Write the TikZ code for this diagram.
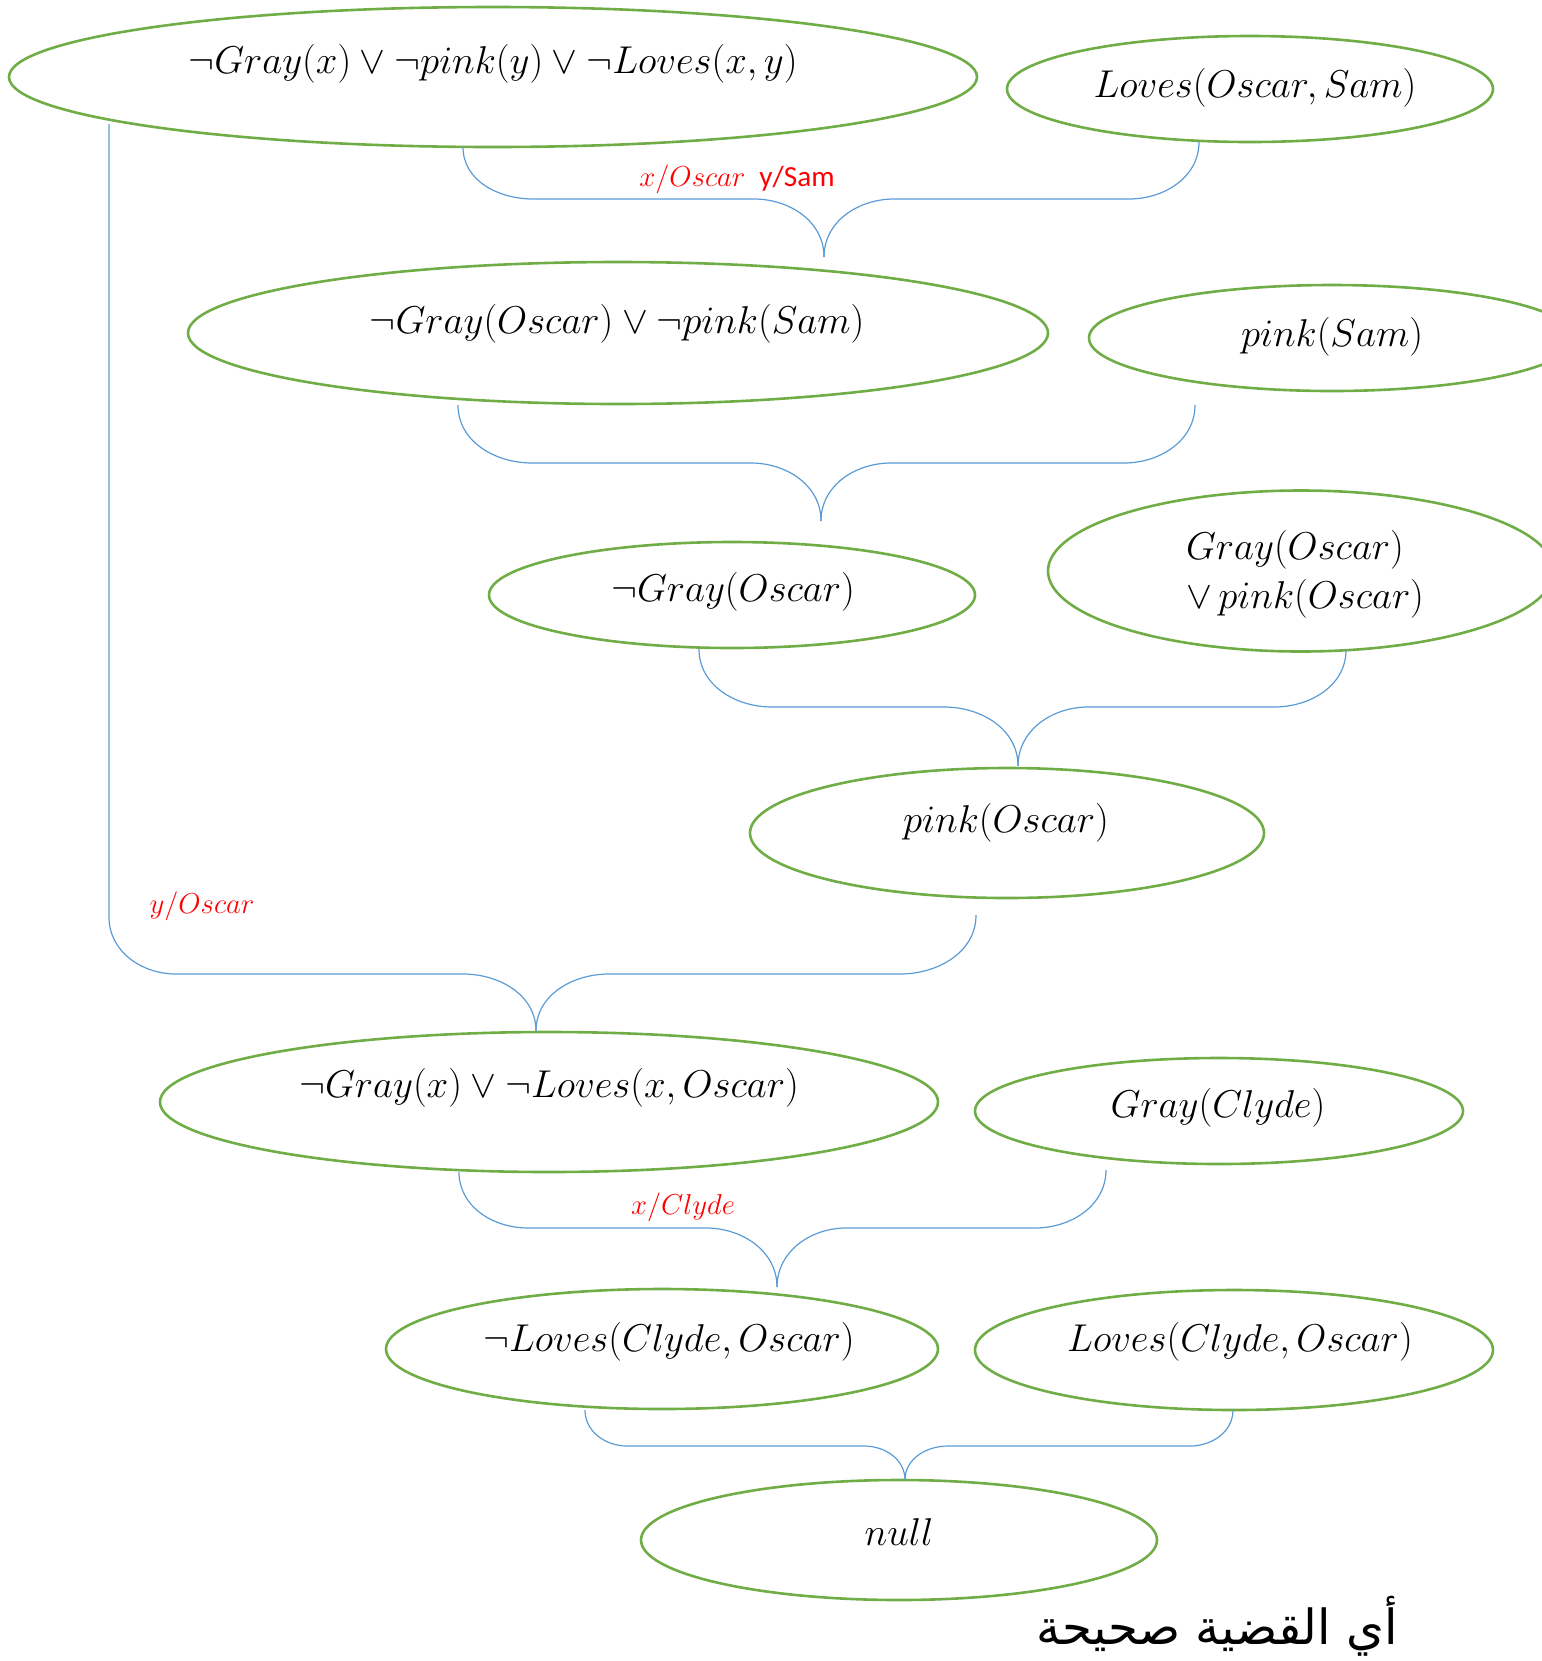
\documentclass[tikz,border=0pt]{standalone}
\usepackage{graphicx}
\usepackage{fontspec}
\newfontfamily\arabicfont[Script=Arabic]{DejaVu Sans}
\newfontfamily\calibrifont{Carlito}
\TeXXeTstate=1
\usetikzlibrary{shapes.geometric}
\definecolor{ellgreen}{RGB}{112,173,71}
\definecolor{connblue}{RGB}{91,155,213}
\newcommand{\ellnode}[5]{\node[ell, minimum width=#4pt, minimum height=#5pt] (#1) at (#2,-#3) {};}
\newcommand{\fm}[1]{\scalebox{0.935}{$#1$}}
\begin{document}
\begin{tikzpicture}[x=0.5pt,y=0.5pt,
  ell/.style={draw=ellgreen, line width=1.3pt, ellipse, inner sep=0pt},
  conn/.style={draw=connblue, line width=0.6pt},
  txt/.style={inner sep=0pt, font=\fontsize{20.74}{26.2}\selectfont},
  sublabel/.style={inner sep=0pt, text=red, font=\fontsize{15}{18}\selectfont}]
\useasboundingbox (0,0) rectangle (1542,-1661);
\clip (0,0) rectangle (1542,-1661);

% ellipses
\ellnode{e1}{493}{77}{484}{70}
\ellnode{e2}{1250}{89}{243}{53}
\ellnode{e3}{618}{333}{430}{71}
\ellnode{e4}{1332}{338}{243}{53}
\ellnode{e5}{732}{595}{243}{53}
\ellnode{e6}{1301}{571}{253}{80.5}
\ellnode{e7}{1007}{833}{257}{65}
\ellnode{e8}{549}{1102}{389}{70}
\ellnode{e9}{1219}{1111}{244}{53}
\ellnode{e10}{662}{1349}{276}{60}
\ellnode{e11}{1234}{1350}{259}{60}
\ellnode{e12}{899}{1540}{258}{60}

% texts
\node[txt] (t1) at (493,-64) {\fm{\neg Gray(x) \vee \neg pink(y) \vee \neg Loves(x,y)}};
\node[txt] (t2) at (1255,-88) {\fm{Loves(Oscar,Sam)}};
\node[txt] (t3) at (617,-324) {\fm{\neg Gray(Oscar) \vee \neg pink(Sam)}};
\node[txt] (t4) at (1332,-337) {\fm{pink(Sam)}};
\node[txt] (t5) at (733,-592) {\fm{\neg Gray(Oscar)}};
\node[txt] (t6) at (1305,-574) {\scalebox{0.935}{\begin{tabular}{@{}l@{}}$Gray(Oscar)$\\$\vee\, pink(Oscar)$\end{tabular}}};
\node[txt] (t7) at (1006,-823) {\fm{pink(Oscar)}};
\node[txt] (t8) at (549,-1088) {\fm{\neg Gray(x) \vee \neg Loves(x,Oscar)}};
\node[txt] (t9) at (1218,-1108) {\fm{Gray(Clyde)}};
\node[txt] (t10) at (669,-1342) {\fm{\neg Loves(Clyde,Oscar)}};
\node[txt] (t11) at (1240,-1342) {\fm{Loves(Clyde,Oscar)}};
\node[txt] (t12) at (899,-1532) {\fm{null}};

% substitution labels
\node[sublabel] (s1) at (737,-179) {$x/Oscar$\hspace{7pt}{\calibrifont\fontsize{14.6}{18}\selectfont y/Sam}};
\node[sublabel] (s2) at (202,-906) {$y/Oscar$};
\node[sublabel] (s3) at (683,-1207) {$x/Clyde$};

% arabic text
\node[inner sep=0pt] (ar) at (1217,-1626) {\arabicfont\fontsize{24.2}{28}\selectfont\beginR أي القضية صحيحة\endR};

% brace 1
\coordinate (b1l) at (463,-147); \coordinate (b1r) at (1199,-142); \coordinate (b1t) at (824,-257);
\draw[conn] (b1l) to[out=-90,in=180] (533,-199) -- (754,-199) to[out=0,in=90] (b1t);
\draw[conn] (b1r) to[out=-90,in=0] (1129,-199) -- (894,-199) to[out=180,in=90] (b1t);
% brace 2
\coordinate (b2l) at (458,-405); \coordinate (b2r) at (1195,-405); \coordinate (b2t) at (821,-521);
\draw[conn] (b2l) to[out=-90,in=180] (532,-463) -- (751,-463) to[out=0,in=90] (b2t);
\draw[conn] (b2r) to[out=-90,in=0] (1124,-463) -- (891,-463) to[out=180,in=90] (b2t);
% brace 3
\coordinate (b3l) at (699,-649); \coordinate (b3r) at (1346,-650); \coordinate (b3t) at (1018,-766);
\draw[conn] (b3l) to[out=-90,in=180] (772,-707) -- (944,-707) to[out=0,in=90] (b3t);
\draw[conn] (b3r) to[out=-90,in=0] (1274,-707) -- (1088,-707) to[out=180,in=90] (b3t);
% brace 4
\coordinate (b4l) at (109,-124); \coordinate (b4r) at (976,-915); \coordinate (b4t) at (536,-1031);
\draw[conn] (b4l) -- (109,-917) to[out=-90,in=180] (176,-974) -- (463,-974) to[out=0,in=90] (b4t);
\draw[conn] (b4r) to[out=-90,in=0] (900,-974) -- (609,-974) to[out=180,in=90] (b4t);
% brace 5
\coordinate (b5l) at (459,-1172); \coordinate (b5r) at (1106,-1170); \coordinate (b5t) at (777,-1287);
\draw[conn] (b5l) to[out=-90,in=180] (528,-1228) -- (706,-1228) to[out=0,in=90] (b5t);
\draw[conn] (b5r) to[out=-90,in=0] (1035,-1228) -- (846,-1228) to[out=180,in=90] (b5t);
% brace 6
\coordinate (b6l) at (585,-1410); \coordinate (b6r) at (1233,-1410); \coordinate (b6t) at (905,-1480);
\draw[conn] (b6l) to[out=-90,in=180] (627,-1446) -- (864,-1446) to[out=0,in=90] (b6t);
\draw[conn] (b6r) to[out=-90,in=0] (1190,-1446) -- (948,-1446) to[out=180,in=90] (b6t);
\end{tikzpicture}
\end{document}
